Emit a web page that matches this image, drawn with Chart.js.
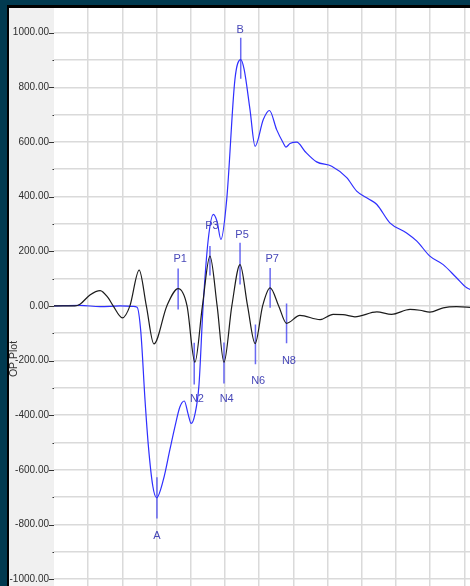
<!DOCTYPE html>
<html>
<head>
<meta charset="utf-8">
<script src="https://cdn.jsdelivr.net/npm/chart.js@4.4.1/dist/chart.umd.min.js"></script>
<style>
  html, body { margin: 0; padding: 0; background: #013a50; width: 470px; height: 586px; overflow: hidden; }
  #frame { position: absolute; left: 7px; top: 5px; width: 463px; height: 581px; background: #000; }
  #c { position: absolute; left: 2px; top: 3px; }
</style>
</head>
<body>
<div id="frame"><canvas id="c" width="461" height="578"></canvas></div>
<script>
// ---- data (x in grid divisions) ----
const blueX = [0.00, 0.76, 1.35, 1.93, 2.31, 2.43, 2.54, 2.66, 2.76, 2.89, 3.00, 3.20, 3.39, 3.54, 3.68, 3.81, 3.92, 4.01, 4.12, 4.24, 4.36, 4.51, 4.66, 4.77, 4.88, 5.05, 5.29, 5.46, 5.56, 5.73, 5.88, 6.12, 6.30, 6.51, 6.70, 6.78, 6.90, 7.10, 7.34, 7.68, 8.12, 8.56, 8.85, 9.19, 9.44, 9.82, 10.31, 10.61, 10.99, 11.38, 11.77, 12.07, 12.22];
const blueY = [0, 2, -3, 0, -2, -5, -97, -342, -513, -660, -702, -635, -525, -440, -370, -348, -395, -430, -397, -288, 0, 243, 335, 308, 243, 389, 828, 901, 865, 719, 584, 682, 715, 645, 597, 581, 594, 599, 565, 527, 511, 469, 420, 392, 371, 304, 267, 237, 182, 151, 103, 66, 58];

const blackX = [0.00, 0.61, 0.76, 1.05, 1.35, 1.58, 1.73, 2.00, 2.22, 2.49, 2.70, 2.92, 3.30, 3.63, 3.89, 4.12, 4.34, 4.56, 4.77, 4.97, 5.20, 5.44, 5.66, 5.88, 6.10, 6.32, 6.57, 6.80, 7.19, 7.78, 8.16, 8.45, 8.80, 9.44, 9.87, 10.41, 10.70, 10.99, 11.38, 11.77, 12.22];
const blackY = [0, 0, 6, 40, 56, 30, 0, -44, 0, 131, 0, -139, 0, 63, 0, -206, 0, 182, 0, -206, 0, 151, 0, -138, 0, 66, 0, -64, -35, -50, -31, -32, -40, -22, -31, -13, -16, -23, -7, -3, -6];

const markerNames  = ['A', 'B', 'P1', 'N2', 'P3', 'N4', 'P5', 'N6', 'P7', 'N8'];
const markerX      = [3.01, 5.46, 3.63, 4.10, 4.56, 4.97, 5.44, 5.89, 6.32, 6.80];
const markerTop    = [-627, 981, 137, -135, 219, -134, 231, -68, 139, 9];
const markerBottom = [-778, 831, -13, -288, 111, -284, 78, -214, -7, -137];
const labelX       = [3.01, 5.44, 3.69, 4.18, 4.62, 5.05, 5.50, 5.97, 6.38, 6.87];
const labelY       = [-843, 1008, 170, -342, 292, -342, 258, -275, 173, -202];

const yTickValues = [1000, 800, 600, 400, 200, 0, -200, -400, -600, -800, -1000];
const yTickLabels = ['1000.00', '800.00', '600.00', '400.00', '200.00', '0.00', '-200.00', '-400.00', '-600.00', '-800.00', '-1000.00'];
const yAxisTitle = 'OP Plot';

// ---- build ----
const pts = (xs, ys) => xs.map((x, i) => ({ x: x, y: ys[i] }));
const datasets = [
  { data: pts(blackX, blackY), borderColor: '#1c1c1c', borderWidth: 1.2, pointRadius: 0, cubicInterpolationMode: 'monotone', fill: false },
  { data: pts(blueX, blueY), borderColor: '#2f2fff', borderWidth: 1.2, pointRadius: 0, cubicInterpolationMode: 'monotone', fill: false }
];
markerNames.forEach((n, i) => {
  datasets.push({ data: [{ x: markerX[i], y: markerTop[i] }, { x: markerX[i], y: markerBottom[i] }],
    borderColor: 'rgba(80,80,240,0.85)', borderWidth: 1.5, pointRadius: 0, tension: 0, fill: false });
});

const FONT = "'Liberation Sans', Arial, sans-serif";

const decor = {
  id: 'decor',
  beforeDraw(chart) {
    const { ctx, chartArea: a } = chart;
    ctx.save();
    ctx.fillStyle = '#f0f0f0';
    ctx.fillRect(0, 0, chart.width, chart.height);
    ctx.fillStyle = '#ffffff';
    ctx.fillRect(a.left, a.top, a.right - a.left, a.bottom - a.top);
    ctx.restore();
  },
  afterDatasetsDraw(chart) {
    const { ctx } = chart;
    const xs = chart.scales.x, ys = chart.scales.y;
    ctx.save();
    ctx.font = '11px ' + FONT;
    ctx.fillStyle = '#4848b8';
    ctx.textAlign = 'center';
    ctx.textBaseline = 'middle';
    markerNames.forEach((n, i) => {
      ctx.fillText(n, xs.getPixelForValue(labelX[i]), ys.getPixelForValue(labelY[i]));
    });
    ctx.restore();
  },
  afterDraw(chart) {
    const { ctx, chartArea: a } = chart;
    const ys = chart.scales.y;
    ctx.save();
    ctx.strokeStyle = '#333';
    ctx.lineWidth = 1;
    for (let v = -1000; v <= 1000; v += 100) {
      const y = Math.round(ys.getPixelForValue(v)) + 0.5;
      const major = yTickValues.includes(v);
      ctx.beginPath();
      ctx.moveTo(a.left - (major ? 5 : 1.5), y);
      ctx.lineTo(a.left, y);
      ctx.stroke();
    }
    ctx.translate(5.5, 351);
    ctx.rotate(-Math.PI / 2);
    ctx.font = '10.5px ' + FONT;
    ctx.fillStyle = '#333';
    ctx.textAlign = 'center';
    ctx.textBaseline = 'middle';
    ctx.fillText(yAxisTitle, 0, 0);
    ctx.restore();
  }
};

new Chart(document.getElementById('c'), {
  type: 'line',
  data: { datasets },
  options: {
    responsive: false,
    animation: false,
    events: [],
    layout: { padding: 0, autoPadding: false },
    plugins: { legend: { display: false }, tooltip: { enabled: false } },
    scales: {
      x: {
        type: 'linear', min: 0, max: 12.164,
        afterBuildTicks(s) { const t = []; for (let i = 0; i <= 12; i++) t.push({ value: i }); s.ticks = t; },
        afterFit(s) { s.height = 0; s.paddingLeft = 0; s.paddingRight = 0; s.paddingTop = 0; s.paddingBottom = 0; },
        ticks: { display: false },
        grid: { color: (c) => c.tick && c.tick.value === 0 ? 'rgba(0,0,0,0)' : '#dadada', lineWidth: 1.5, drawTicks: false },
        border: { display: false }
      },
      y: {
        type: 'linear', min: -1025, max: 1090,
        afterBuildTicks(s) { const t = []; for (let v = -1000; v <= 1000; v += 100) t.push({ value: v }); s.ticks = t; },
        afterFit(s) { s.width = 45; s.paddingTop = 0; s.paddingBottom = 0; s.paddingLeft = 0; s.paddingRight = 0; },
        ticks: {
          autoSkip: false, padding: 0, color: '#2e2e2e',
          font: { size: 10, family: FONT },
          callback: (v) => { const i = yTickValues.indexOf(v); return i >= 0 ? yTickLabels[i] : ''; }
        },
        grid: { color: '#dadada', lineWidth: 1.5, drawTicks: true, tickLength: 5, tickColor: 'rgba(0,0,0,0)' },
        border: { display: false }
      }
    }
  },
  plugins: [decor]
});
</script>
</body>
</html>
